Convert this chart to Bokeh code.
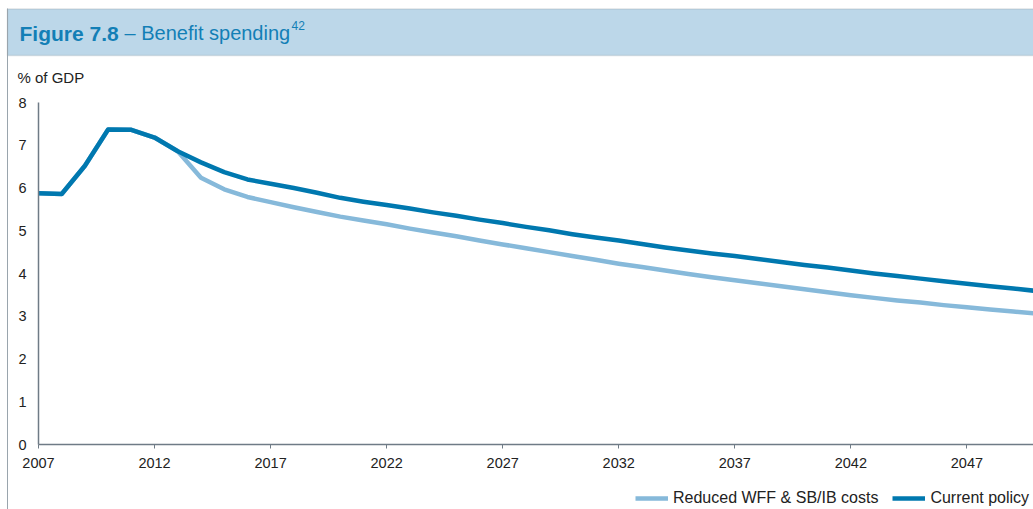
from bokeh.plotting import figure
from bokeh.models import (Range1d, Label, Legend, LegendItem, BoxAnnotation,
                          FixedTicker, ColumnDataSource)
from bokeh.embed import file_html
from bokeh.resources import INLINE

# ---- data ----
years = list(range(2007, 2051))
current_policy = [5.88, 5.86, 6.52, 7.37, 7.36, 7.18, 6.86, 6.60, 6.37, 6.20,
                  6.10, 6.00, 5.89, 5.77, 5.68, 5.60, 5.52, 5.43, 5.35, 5.26,
                  5.18, 5.09, 5.01, 4.92, 4.84, 4.77, 4.69, 4.61, 4.54, 4.47,
                  4.41, 4.34, 4.27, 4.20, 4.14, 4.07, 4.00, 3.94, 3.88, 3.82,
                  3.76, 3.70, 3.65, 3.59]
reduced_wff = [5.88, 5.86, 6.52, 7.37, 7.36, 7.18, 6.86, 6.24, 5.97, 5.79,
               5.67, 5.55, 5.44, 5.33, 5.24, 5.15, 5.05, 4.96, 4.87, 4.77,
               4.68, 4.59, 4.50, 4.41, 4.32, 4.23, 4.15, 4.07, 3.99, 3.91,
               3.84, 3.77, 3.70, 3.63, 3.56, 3.49, 3.43, 3.37, 3.32, 3.26,
               3.21, 3.16, 3.11, 3.06]
x_ticks = [2007, 2012, 2017, 2022, 2027, 2032, 2037, 2042, 2047]
y_ticks = [0, 1, 2, 3, 4, 5, 6, 7, 8]
series_names = ["Reduced WFF & SB/IB costs", "Current policy"]

FONT = "Liberation Sans"
DARK = "#0078af"
LIGHT = "#86b9da"
TITLE_BLUE = "#137fb6"
TEXT = "#222222"
AXIS = "#6f7b86"

# ---- layout geometry (page pixels) ----
W, H = 1033, 509
X0_PX, PX_PER_YEAR = 38.0, 23.21          # where 2007 sits, scale
Y0_PX, PX_PER_UNIT = 444.0, 42.75          # where 0 sits, scale
x_start = x_ticks[0] - X0_PX / PX_PER_YEAR
x_end = x_ticks[0] + (W - X0_PX) / PX_PER_YEAR
y_start = -(H - Y0_PX) / PX_PER_UNIT
y_end = Y0_PX / PX_PER_UNIT

p = figure(width=W, height=H, x_range=Range1d(x_start, x_end), y_range=Range1d(y_start, y_end),
           toolbar_location=None, output_backend="svg", min_border=0,
           outline_line_color=None, background_fill_color="white", border_fill_color="white")
p.grid.visible = False

# header band (screen units, y measured from bottom)
p.add_layout(BoxAnnotation(left=7, right=W + 20, top=H - 8.5, bottom=H - 55,
                           left_units="screen", right_units="screen",
                           top_units="screen", bottom_units="screen",
                           fill_color="#bcd7e9", fill_alpha=1,
                           line_color="#99a7b0", line_width=1.5))
# left page border
p.add_layout(BoxAnnotation(left=6.5, right=7.5, top=H - 8, bottom=-5,
                           left_units="screen", right_units="screen",
                           top_units="screen", bottom_units="screen",
                           fill_color="#9aa5ad", fill_alpha=1, line_color=None))

p.add_layout(Label(x=19, y=H - 32.5, x_units="screen", y_units="screen", text="Figure 7.8",
                   text_font=FONT, text_font_size="21px", text_font_style="bold",
                   text_color=TITLE_BLUE, text_baseline="alphabetic"))
p.add_layout(Label(x=124, y=H - 32.5, x_units="screen", y_units="screen",
                   text="– Benefit spending", text_font=FONT, text_font_size="20px",
                   text_color=TITLE_BLUE, text_baseline="alphabetic"))
p.add_layout(Label(x=291, y=H - 25, x_units="screen", y_units="screen", text="42",
                   text_font=FONT, text_font_size="12px",
                   text_color=TITLE_BLUE, text_baseline="alphabetic"))
p.add_layout(Label(x=17, y=H - 77, x_units="screen", y_units="screen", text="% of GDP",
                   text_font=FONT, text_font_size="15px", text_color=TEXT,
                   text_baseline="middle"))

# data lines
src = ColumnDataSource(dict(year=years, cur=current_policy, red=reduced_wff))
r_red = p.line("year", "red", source=src, line_color=LIGHT, line_width=4.5, line_join="round")
r_cur = p.line("year", "cur", source=src, line_color=DARK, line_width=4.5, line_join="round")

# axes drawn at fixed data locations inside the frame
p.xaxis.fixed_location = 0
p.yaxis.fixed_location = x_ticks[0]
p.xaxis.bounds = (x_ticks[0], x_end + 2)
p.yaxis.bounds = (y_ticks[0], y_ticks[-1])
p.xaxis.ticker = FixedTicker(ticks=x_ticks)
p.yaxis.ticker = FixedTicker(ticks=y_ticks)
for ax in (p.xaxis, p.yaxis):
    ax.axis_line_color = AXIS
    ax.axis_line_width = 1.5
    ax.major_tick_line_color = AXIS
    ax.minor_tick_line_color = None
    ax.major_label_text_font = FONT
    ax.major_label_text_font_size = "14.5px"
    ax.major_label_text_color = TEXT
p.xaxis.major_tick_in = 0
p.xaxis.major_tick_out = 4
p.xaxis.major_label_standoff = 9
p.yaxis.major_tick_in = 0
p.yaxis.major_tick_out = 0
p.yaxis.major_label_standoff = 12

legend = Legend(items=[LegendItem(label=series_names[0], renderers=[r_red]),
                       LegendItem(label=series_names[1], renderers=[r_cur])],
                location=(635, 1), orientation="horizontal",
                glyph_width=33, glyph_height=20, label_standoff=5, spacing=14,
                padding=0, margin=0, border_line_color=None, background_fill_alpha=0,
                label_text_font=FONT, label_text_font_size="16px", label_text_color=TEXT)
p.add_layout(legend)

open("out.html", "w").write(file_html(p, INLINE))
